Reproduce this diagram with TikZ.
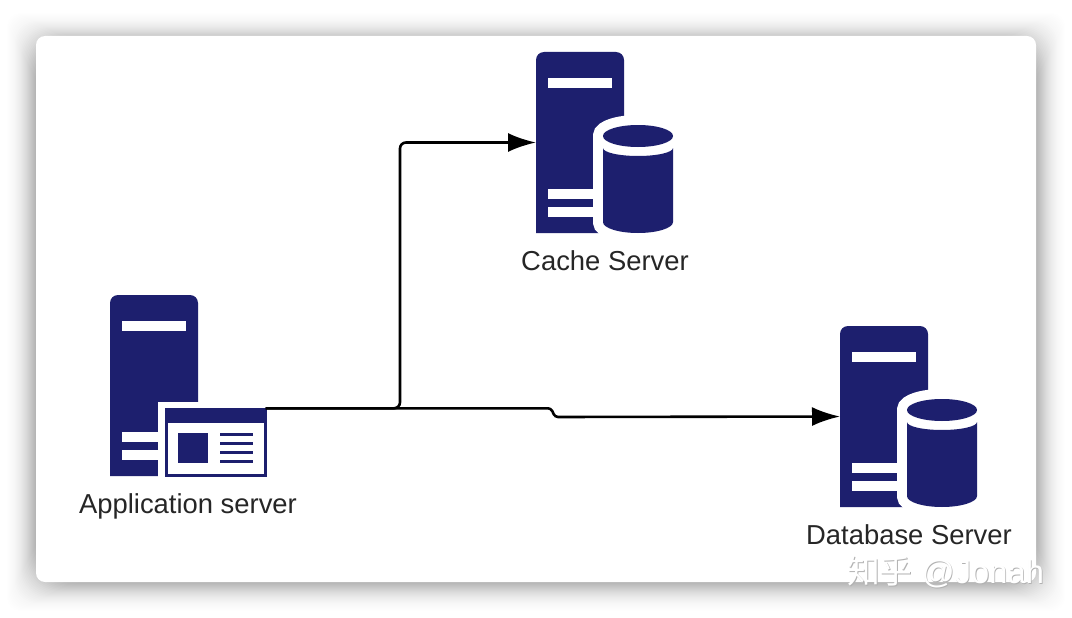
\documentclass[tikz,border=0pt]{standalone}
\usepackage{fontspec}
\setmainfont{Liberation Sans}
\newfontfamily\cjkfont{Noto Sans CJK SC}
\definecolor{navy}{HTML}{1D1F6E}
\definecolor{labelink}{HTML}{262626}
\usetikzlibrary{arrows.meta}
\tikzset{
  x=1pt,y=-1pt,
  cutout/.style={fill=white,draw=none},
  label text/.style={font=\fontsize{27.4}{30}\selectfont,text=labelink,inner sep=0pt,anchor=base},
  link/.style={draw=black,line width=2.6pt},
  tip/.style={-{Latex[length=28pt,width=19pt]}},
  anchorbox/.style={inner sep=0pt,outer sep=0pt,minimum width=88pt,minimum height=181pt},
  pics/towerbody/.style={code={
    \node[anchorbox,anchor=north west] (-body) at (0,0) {};
    \fill[navy] (0,181) -- (0,8) arc[start angle=180,end angle=270,radius=8] -- (80,0)
       arc[start angle=270,end angle=360,radius=8] -- (88,181) -- cycle;
    \fill[white] (12,26) rectangle (76,36);
    \fill[white] (12,137) rectangle (60,147);
    \fill[white] (12,155) rectangle (60,165);
  }},
  pics/dbserver/.style={code={
    \pic (-t) at (0,0) {towerbody};
    % cylinder: the white halo is the same outline, stroked wide
    \path[draw=white,fill=white,line width=20pt]
      (67,84) -- (67,170) arc[x radius=35,y radius=11,start angle=180,end angle=0]
      -- (137,84) arc[x radius=35,y radius=11,start angle=0,end angle=-180] -- cycle;
    \fill[navy] (102,84) ellipse[x radius=35,y radius=11];
    \fill[navy] (67,96) arc[x radius=35,y radius=8,start angle=180,end angle=0]
      -- (137,170) arc[x radius=35,y radius=11,start angle=0,end angle=180] -- cycle;
  }}
}
\begin{document}
\begin{tikzpicture}
\useasboundingbox (0,0) rectangle (1072,618);
\fill[white] (0,0) rectangle (1072,618);

% soft drop shadow: stacked translucent panels, denser toward the card
\foreach \g in {1,...,36}{
  \pgfmathsetmacro{\op}{0.02*(\g/36)^1.3}
  \fill[black,fill opacity=\op,rounded corners={\g*1pt+6pt}]
    ({0+\g},{6+\g}) rectangle ({1072-\g},{618-\g});
}
\node[fill=white,rounded corners=9pt,minimum width=1000pt,minimum height=546pt,inner sep=0pt,outer sep=0pt,anchor=north west] (card) at (36,36) {};

% application server
\pic (app) at (110,295) {towerbody};
\fill[cutout] (158,402) rectangle (200,479);
\node[draw=navy,fill=white,line width=3pt,minimum width=99pt,minimum height=66pt,inner sep=0pt,outer sep=0pt,anchor=north west] (appwin) at (166.5,409.5) {};
\fill[navy] (165,408) rectangle (267,423);
\fill[navy] (178,433) rectangle (208,463);
\foreach \ly in {434,443,452,461}{
  \fill[navy] (220,{\ly-1.5}) rectangle (253,{\ly+1.5});
}
\node[label text] (applabel) at (188,513.5) {Application server};

% cache and database servers
\pic (cache) at (536,52) {dbserver};
\node[label text] (cachelabel) at (605,270) {Cache Server};
\pic (db) at (840,326) {dbserver};
\node[label text] (dblabel) at (909,544) {Database Server};

% connectors out of the application window
\coordinate (branch) at (400,408.3);
\coordinate (start) at (appwin.east |- branch);
\coordinate (stepa) at (551,408.3);
\coordinate (stepb) at (555,417);
\draw[link,rounded corners=6pt,tip] (start) -- (branch) -- (branch |- cache-t-body.west) -- (cache-t-body.west);
\draw[link,rounded corners=3pt,tip] (start) -- (stepa) -- (stepb) -- (db-t-body.west);

% watermark
\node[font=\fontsize{32.7}{36}\selectfont,text=black!30,inner sep=0pt,anchor=west] (marka) at (847.8,573.2) {{\cjkfont 知乎} @Jonah};
\node[font=\fontsize{32.7}{36}\selectfont,text=white,inner sep=0pt,anchor=west] (markb) at (847,572) {{\cjkfont 知乎} @Jonah};
\end{tikzpicture}
\end{document}
